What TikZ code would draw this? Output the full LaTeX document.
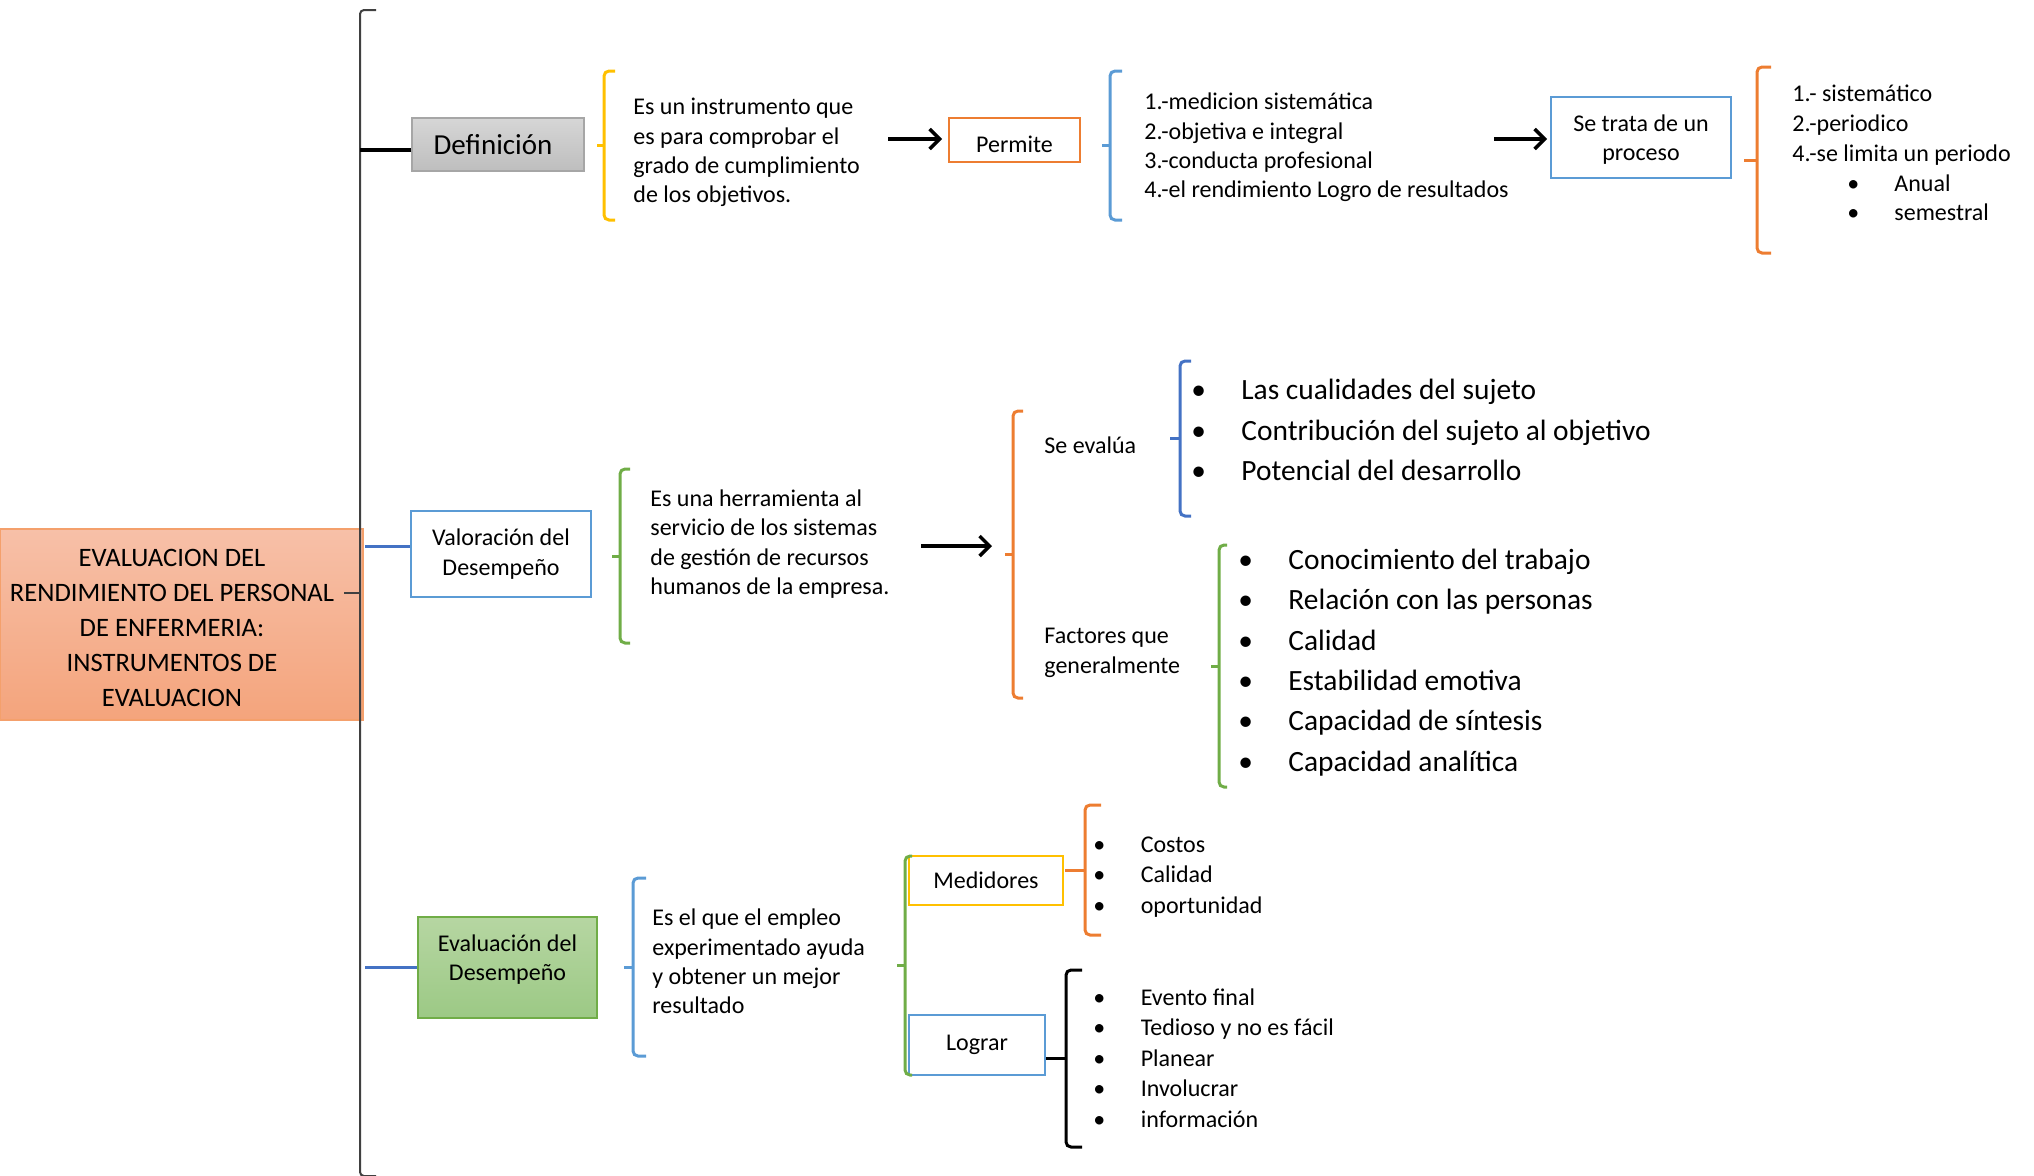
\documentclass[tikz,border=0pt]{standalone}
\usepackage{fontspec}
\setmainfont{Carlito}
\usepackage{tikz}
\usetikzlibrary{arrows.meta, positioning, calc}
\definecolor{naranja}{HTML}{ED7D31}
\definecolor{azul}{HTML}{5B9BD5}
\definecolor{azulosc}{HTML}{4472C4}
\definecolor{verde}{HTML}{70AD47}
\definecolor{amarillo}{HTML}{FFC000}
\definecolor{grisborde}{HTML}{A6A6A6}
\definecolor{grisA}{HTML}{D6D6D6}
\definecolor{grisB}{HTML}{BEBEBE}
\definecolor{verdeA}{HTML}{B6D6A2}
\definecolor{verdeB}{HTML}{9CC985}
\definecolor{salmonA}{HTML}{F7C0A8}
\definecolor{salmonB}{HTML}{F4A47C}
\definecolor{salmonborde}{HTML}{F4A06C}
\definecolor{ejegris}{HTML}{404040}
\tikzstyle{caja} = [draw, line width=1.25pt, inner sep=0pt, align=center, font=\fontsize{12}{14.7}\selectfont]
\tikzstyle{texto} = [anchor=west, inner sep=0pt, align=left, font=\fontsize{12}{14.7}\selectfont]
\tikzstyle{lista} = [anchor=west, inner sep=0pt, align=left, font=\fontsize{14.7}{20.3}\selectfont]
\tikzstyle{listita} = [anchor=west, inner sep=0pt, align=left, font=\fontsize{12}{15.25}\selectfont]
\tikzstyle{flecha} = [draw, line width=1.75pt, -{Straight Barb[length=5pt,width=10pt]}]
\tikzstyle{rama} = [draw, line width=1.75pt]
% llave: color, x, arriba, abajo, gancho, punta
\newcommand{\llave}[6]{%
  \draw[#1, line width=1.5pt, rounded corners=2.5pt] (#2+#5,#3) -- (#2,#3) -- (#2,#4) -- (#2+#5,#4);
  \draw[#1, line width=1.5pt] (#2,{(#3+#4)/2}) -- (#2-#6,{(#3+#4)/2});
}
\newcommand{\bul}[1]{\makebox[#1][l]{\textbullet}}

\begin{document}
\begin{tikzpicture}[x=0.5pt, y=-0.5pt]
\useasboundingbox (0,0) rectangle (2034,1175);

% tema central
\node [caja, draw=salmonborde, line width=0.75pt, top color=salmonA, bottom color=salmonB, minimum width=181.5pt, minimum height=95.5pt] (titulo) at (181.5,624.5) {};
\node [inner sep=0pt, align=center, font=\fontsize{13.3}{17.5}\selectfont] (titulo txt) at (172,628) {EVALUACION DEL\\RENDIMIENTO DEL PERSONAL\\DE ENFERMERIA:\\INSTRUMENTOS DE\\EVALUACION};

% llave grande
\coordinate (eje) at (360,10);
\draw [ejegris, line width=1pt, rounded corners=2pt] (376,10) -- (eje) -- (360,1176) -- (376,1176);
\draw [ejegris, line width=1pt] (360,593) -- (344,593);

% fila 1
\node [caja, draw=grisborde, line width=0.75pt, top color=grisA, bottom color=grisB, minimum width=86pt, minimum height=26.5pt, font=\fontsize{14.5}{17}\selectfont] (defin) at (498,144.5) {Definición\hspace*{5pt}};
\node [texto] (def txt) at (633,152.5) {Es un instrumento que\\es para comprobar el\\grado de cumplimiento\\de los objetivos.};
\node [caja, draw=naranja, minimum width=65.5pt, minimum height=22pt, text height=12.5pt, text depth=0pt] (permite) at (1014.5,140) {Permite};
\node [texto] (permite txt) at (1144,147.5) {1.-medicion sistemática\\2.-objetiva e integral\\3.-conducta profesional\\4.-el rendimiento Logro de resultados};
\node [caja, draw=azul, minimum width=90pt, minimum height=40.5pt, text depth=-1pt] (proceso) at (1641,137.5) {Se trata de un\\proceso};
\node [texto, font=\fontsize{12}{14.9}\selectfont] (proceso txt) at (1792,153) {1.- sistemático\\2.-periodico\\4.-se limita un periodo\\\hspace*{27.5pt}\bul{23.5pt}Anual\\\hspace*{27.5pt}\bul{23.5pt}semestral};

\path [rama] ([yshift=-2.75pt]defin.west) -- ([yshift=-2.75pt]defin.west -| eje);
\llave{amarillo}{604}{71}{220}{11}{7}
\llave{azul}{1110}{71}{220}{12}{8}
\llave{naranja}{1757}{67}{253}{14}{13}
\coordinate (f1a) at (888,139);
\coordinate (f1b) at (942,139);
\coordinate (f2a) at (1494,139);
\coordinate (f2b) at (1547,139);
\path [flecha] (f1a) -- (f1b);
\path [flecha] (f2a) -- (f2b);

% fila 2
\node [caja, draw=azul, minimum width=90pt, minimum height=43pt] (valor) at (501,554) {Valoración del\\Desempeño};
\node [texto] (valor txt) at (650,544) {Es una herramienta al\\servicio de los sistemas\\de gestión de recursos\\humanos de la empresa.};
\node [texto] (evalua1) at (1044,445) {Se evalúa};
\node [texto] (factores) at (1044,653) {Factores que\\generalmente};
\node [lista] (cualidades) at (1191,430) {\bul{25pt}Las cualidades del sujeto\\\bul{25pt}Contribución del sujeto al objetivo\\\bul{25pt}Potencial del desarrollo};
\node [lista, font=\fontsize{14.7}{20.15}\selectfont] (factores lst) at (1238,662.5) {\bul{25pt}Conocimiento del trabajo\\\bul{25pt}Relación con las personas\\\bul{25pt}Calidad\\\bul{25pt}Estabilidad emotiva\\\bul{25pt}Capacidad de síntesis\\\bul{25pt}Capacidad analítica};

\path [rama, draw=azulosc, line width=1.5pt] ([yshift=4pt]valor.west) -- ([yshift=4pt,xshift=2.5pt]valor.west -| eje);
\llave{verde}{620}{469}{643}{10}{8}
\llave{naranja}{1013}{411}{698}{10}{8}
\llave{azulosc}{1180}{361}{516}{11}{10}
\llave{verde}{1219}{545}{787}{8}{8}
\coordinate (f3a) at (921,546);
\coordinate (f3b) at (992,546);
\path [flecha] (f3a) -- (f3b);

% fila 3
\node [caja, draw=verde, line width=0.75pt, top color=verdeA, bottom color=verdeB, minimum width=89.5pt, minimum height=50.5pt] (evalua) at (507.5,967.5) {Evaluación del\\Desempeño\\[-4.7pt]};
\node [texto] (evalua txt) at (652,961.5) {Es el que el empleo\\experimentado ayuda\\y obtener un mejor\\resultado};
\node [caja, draw=amarillo, minimum width=77pt, minimum height=24.5pt] (medid) at (986,880.5) {Medidores};
\node [caja, draw=azul, minimum width=68pt, minimum height=30pt] (lograr) at (977,1045) {Lograr};
\node [listita] (medid lst) at (1093,877) {\bul{23.7pt}Costos\\\bul{23.7pt}Calidad\\\bul{23.7pt}oportunidad};
\node [listita] (lograr lst) at (1093,1058) {\bul{23.7pt}Evento final\\\bul{23.7pt}Tedioso y no es fácil\\\bul{23.7pt}Planear\\\bul{23.7pt}Involucrar\\\bul{23.7pt}información};

\path [rama, draw=azulosc, line width=1.5pt] (evalua.west) -- ([xshift=2.5pt]evalua.west -| eje);
\llave{azul}{633}{878}{1056}{13}{9}
\llave{verde}{905}{856}{1075}{7}{8}
\llave{naranja}{1085}{805}{935}{16}{20}
\llave{black}{1066}{970}{1147}{16}{20}
\end{tikzpicture}
\end{document}
